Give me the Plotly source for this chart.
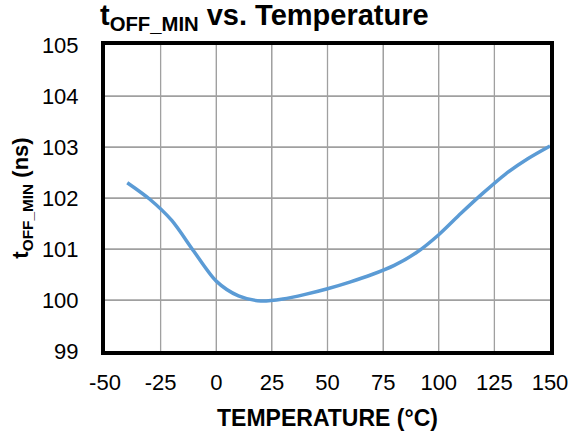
import plotly.graph_objects as go

temperature_c = [-40, -30, -20, -10, 0, 10, 20, 30, 40, 50, 60, 70, 80, 90, 100, 110, 120, 130, 140, 150]
toff_min_ns = [102.30, 101.98, 101.56, 100.95, 100.37, 100.08, 99.98, 100.02, 100.11, 100.22,
               100.35, 100.50, 100.68, 100.93, 101.28, 101.70, 102.10, 102.47, 102.77, 103.02]
x_ticks = [-50, -25, 0, 25, 50, 75, 100, 125, 150]
y_ticks = [99, 100, 101, 102, 103, 104, 105]

FONT = "Liberation Sans, Arial, sans-serif"
GRID = "#A0A0A0"

fig = go.Figure()
fig.add_trace(go.Scatter(
    x=temperature_c, y=toff_min_ns, mode="lines",
    line=dict(color="#5B9BD5", width=3.5, shape="spline", smoothing=0.8),
    showlegend=False, hoverinfo="skip"))

# grid lines drawn at the tick values, spanning the axis ranges
for xv in x_ticks[1:-1]:
    fig.add_shape(type="line", xref="x", yref="y", x0=xv, x1=xv, y0=y_ticks[0], y1=y_ticks[-1],
                  line=dict(color=GRID, width=1.3), layer="below")
for yv in y_ticks[1:-1]:
    fig.add_shape(type="line", xref="x", yref="y", x0=x_ticks[0], x1=x_ticks[-1], y0=yv, y1=yv,
                  line=dict(color=GRID, width=1.3), layer="below")

fig.update_layout(
    width=581, height=433,
    margin=dict(l=105, r=31, t=45, b=82),
    paper_bgcolor="white", plot_bgcolor="white",
    font=dict(family=FONT, color="black"),
    title=dict(text="<b>t<sub>OFF_MIN</sub> vs. Temperature</b>",
               font=dict(family=FONT, size=29, color="black"),
               x=100/581, xanchor="left", xref="container",
               y=1 - 5/433, yanchor="top", yref="container"),
)
fig.update_xaxes(
    range=[-50, 150], tickvals=x_ticks, ticktext=[str(v) for v in x_ticks],
    showgrid=True, gridcolor=GRID, gridwidth=1.3,
    showline=True, linecolor="black", linewidth=4, mirror=True,
    ticks="outside", ticklen=9, tickcolor="rgba(0,0,0,0)",
    tickfont=dict(family=FONT, size=22, color="black"),
    title=dict(text="<b>TEMPERATURE (°C)</b>", font=dict(family=FONT, size=23, color="black"), standoff=16),
    zeroline=False, automargin=False,
)
fig.update_yaxes(
    range=[99, 105], tickvals=y_ticks, ticktext=[str(v) for v in y_ticks],
    showgrid=True, gridcolor=GRID, gridwidth=1.3,
    showline=True, linecolor="black", linewidth=4, mirror=True,
    ticks="outside", ticklen=18, tickcolor="rgba(0,0,0,0)",
    tickfont=dict(family=FONT, size=22, color="black"),
    title=dict(text="<b>t<sub>OFF_MIN</sub> (ns)</b>", font=dict(family=FONT, size=22, color="black"), standoff=8),
    zeroline=False, automargin=False,
)

fig.write_html("out.html")
